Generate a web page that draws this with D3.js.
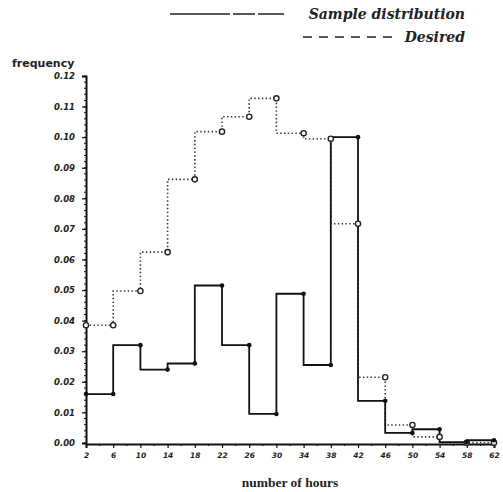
<!DOCTYPE html>
<html>
<head>
<meta charset="utf-8">
<script src="https://cdn.jsdelivr.net/npm/d3@7"></script>
<style>
  body { margin: 0; background: #fff; }
  svg { display: block; }
</style>
</head>
<body>
<div id="chart"></div>
<script>
// data
const hours = [2, 6, 10, 14, 18, 22, 26, 30, 34, 38, 42, 46, 50, 54, 58, 62];
const sampleFreq = [0.016, 0.016, 0.032, 0.024, 0.026, 0.0515, 0.032, 0.0095, 0.0488, 0.0255, 0.1, 0.0138, 0.0033, 0.0045, 0.0003, 0.0009];
const desiredFreq = [0.0385, 0.0385, 0.0497, 0.0624, 0.0862, 0.1018, 0.1067, 0.1127, 0.1013, 0.0995, 0.0717, 0.0215, 0.0059, 0.002, 0.0001, 0.0001];
const yTicks = [0, 0.01, 0.02, 0.03, 0.04, 0.05, 0.06, 0.07, 0.08, 0.09, 0.10, 0.11, 0.12];
const xTicks = [2, 6, 10, 14, 18, 22, 26, 30, 34, 38, 42, 46, 50, 54, 58, 62];

const width = 503, height = 492;

const svg = d3.select("#chart").append("svg")
  .attr("width", width)
  .attr("height", height);

const x = d3.scaleLinear().domain([2, 62]).range([86, 494]);
const y = d3.scaleLinear().domain([0, 0.12]).range([443, 76]);

// axes
const yAxis = svg.append("g")
  .attr("transform", "translate(86,0)")
  .call(d3.axisLeft(y).tickValues(yTicks).tickFormat(d3.format(".2f")).tickSize(4).tickPadding(7));

// minor y ticks
svg.append("g").selectAll("line")
  .data(d3.range(0, 0.1201, 0.002))
  .join("line")
  .attr("x1", 84).attr("x2", 86)
  .attr("y1", d => y(d)).attr("y2", d => y(d))
  .attr("stroke", "#111").attr("stroke-width", 1);

const xAxis = svg.append("g")
  .attr("transform", "translate(0,444)")
  .call(d3.axisBottom(x).tickValues(xTicks).tickFormat(d3.format("d")).tickSize(4).tickPadding(5));

svg.append("g").selectAll("line")
  .data(d3.range(4, 62, 4))
  .join("line")
  .attr("x1", d => x(d)).attr("x2", d => x(d))
  .attr("y1", 444).attr("y2", 446)
  .attr("stroke", "#111");

[yAxis, xAxis].forEach(g => {
  g.select(".domain").attr("stroke", "#111").attr("stroke-width", 2);
  g.selectAll(".tick line").attr("stroke", "#111").attr("stroke-width", 1.2);
  g.selectAll("text")
    .attr("font-family", "DejaVu Sans")
    .attr("font-weight", "bold")
    .attr("font-style", "italic")
    .attr("fill", "#222");
});
yAxis.selectAll("text").attr("font-size", 8.5);
xAxis.selectAll("text").attr("font-size", 7.5);

// lines
const line = d3.line()
  .x(d => x(d[0]))
  .y(d => y(d[1]))
  .curve(d3.curveStepBefore);

const desired = hours.map((h, i) => [h, desiredFreq[i]]);
const sample = hours.map((h, i) => [h, sampleFreq[i]]);

svg.append("path")
  .datum(desired)
  .attr("d", line)
  .attr("fill", "none")
  .attr("stroke", "#333")
  .attr("stroke-width", 1.6)
  .attr("stroke-dasharray", "1.4,2.4");

svg.append("path")
  .datum(sample)
  .attr("d", line)
  .attr("fill", "none")
  .attr("stroke", "#111")
  .attr("stroke-width", 1.8);

svg.append("g").selectAll("circle")
  .data(desired)
  .join("circle")
  .attr("cx", d => x(d[0]))
  .attr("cy", d => y(d[1]))
  .attr("r", 2.6)
  .attr("fill", "#fff")
  .attr("stroke", "#222")
  .attr("stroke-width", 1.4);

svg.append("g").selectAll("circle")
  .data(sample)
  .join("circle")
  .attr("cx", d => x(d[0]))
  .attr("cy", d => y(d[1]))
  .attr("r", 2.3)
  .attr("fill", "#111");

// labels
svg.append("text")
  .attr("x", 12).attr("y", 67)
  .attr("font-family", "DejaVu Sans")
  .attr("font-weight", "bold")
  .attr("font-size", 11)
  .attr("fill", "#222")
  .text("frequency");

svg.append("text")
  .attr("x", 290).attr("y", 487)
  .attr("text-anchor", "middle")
  .attr("font-family", "Liberation Serif")
  .attr("font-weight", "bold")
  .attr("font-size", 13.5)
  .attr("fill", "#222")
  .text("number of hours");

// legend
const legend = svg.append("g")
  .attr("font-family", "DejaVu Serif")
  .attr("font-style", "italic")
  .attr("font-weight", "bold")
  .attr("font-size", 14)
  .attr("fill", "#222");

legend.append("line")
  .attr("x1", 170).attr("x2", 287).attr("y1", 14).attr("y2", 14)
  .attr("stroke", "#222").attr("stroke-width", 1.4)
  .attr("stroke-dasharray", "60,3,22,3,26");
legend.append("text")
  .attr("x", 465).attr("y", 19)
  .attr("text-anchor", "end")
  .text("Sample distribution");

legend.append("line")
  .attr("x1", 303).attr("x2", 395).attr("y1", 37).attr("y2", 37)
  .attr("stroke", "#222").attr("stroke-width", 1.4)
  .attr("stroke-dasharray", "9,7");
legend.append("text")
  .attr("x", 465).attr("y", 42)
  .attr("text-anchor", "end")
  .text("Desired");
</script>
</body>
</html>
